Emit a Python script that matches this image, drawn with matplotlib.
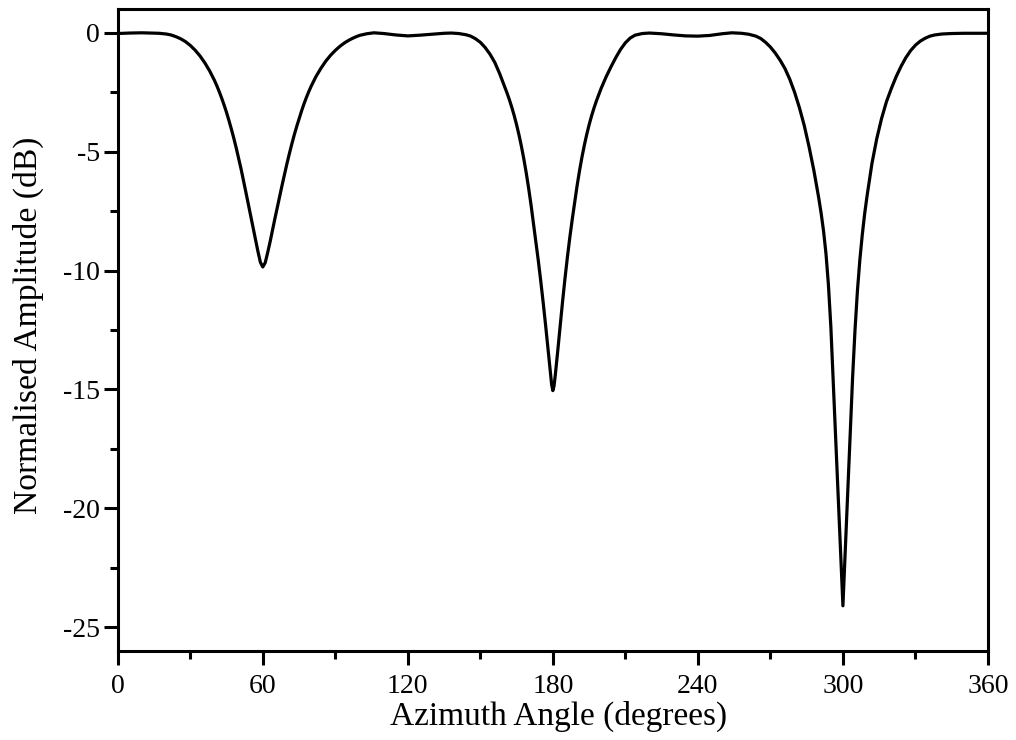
import matplotlib
matplotlib.use("Agg")
import matplotlib.pyplot as plt
from matplotlib.ticker import MultipleLocator

# Azimuth angle (degrees) and normalised amplitude (dB),
# split into six 60-degree sections.
az_a = [0, 5, 10, 14, 17, 20, 22, 24, 26, 28, 30, 32, 34, 36, 38, 40, 41, 42,
        43, 44, 45, 46, 47, 48, 49, 50, 51, 52, 53, 54, 55, 56, 57, 58, 59]
db_a = [-0.03, -0.01, 0.0, -0.01, -0.02, -0.05, -0.09, -0.16, -0.25, -0.37,
        -0.53, -0.73, -0.97, -1.26, -1.6, -2.0, -2.23, -2.48, -2.75, -3.04,
        -3.35, -3.69, -4.05, -4.43, -4.84, -5.27, -5.72, -6.2, -6.7, -7.2,
        -7.7, -8.2, -8.7, -9.2, -9.65]

az_b = [60, 61, 62, 63, 64, 65, 66, 67, 68, 69, 70, 71, 72, 73, 74, 75, 76, 77,
        78, 79, 80, 82, 84, 86, 88, 90, 92, 94, 96, 98, 100, 103, 106, 110, 115]
db_b = [-9.85, -9.67, -9.25, -8.8, -8.3, -7.82, -7.34, -6.86, -6.4, -5.94,
        -5.5, -5.08, -4.68, -4.3, -3.95, -3.62, -3.3, -3.0, -2.73, -2.48,
        -2.25, -1.84, -1.5, -1.2, -0.95, -0.74, -0.56, -0.41, -0.29, -0.19,
        -0.11, -0.04, 0.0, -0.03, -0.09]

az_c = [120, 125, 130, 135, 138, 141, 144, 146, 148, 150, 152, 154, 156, 158,
        160, 161, 162, 163, 164, 165, 166, 167, 168, 169, 170, 171, 172, 173,
        174, 175, 176, 177, 178, 179, 179.5]
db_c = [-0.13, -0.1, -0.06, -0.02, -0.01, -0.03, -0.08, -0.14, -0.25, -0.4,
        -0.62, -0.9, -1.25, -1.72, -2.25, -2.52, -2.81, -3.13, -3.48, -3.87,
        -4.3, -4.78, -5.31, -5.9, -6.55, -7.26, -8.03, -8.8, -9.6, -10.45,
        -11.35, -12.3, -13.3, -14.3, -14.8]

az_d = [180, 180.5, 181, 182, 183, 184, 185, 186, 187, 188, 189, 190, 191, 192,
        193, 194, 195, 196, 197, 198, 200, 202, 204, 206, 208, 210, 212, 214,
        217, 220, 225, 230, 235]
db_d = [-15.05, -14.85, -14.4, -13.4, -12.35, -11.32, -10.35, -9.45, -8.62,
        -7.86, -7.16, -6.45, -5.82, -5.25, -4.74, -4.28, -3.87, -3.5, -3.17,
        -2.87, -2.33, -1.86, -1.44, -1.05, -0.7, -0.42, -0.22, -0.1, -0.03,
        -0.01, -0.04, -0.09, -0.13]

az_e = [240, 245, 250, 254, 258, 261, 264, 266, 268, 270, 272, 274, 276, 278,
        280, 282, 284, 286, 288, 290, 291, 292, 293, 294, 295, 296, 297, 298,
        299, 299.5]
db_e = [-0.14, -0.11, -0.04, 0.0, -0.02, -0.06, -0.14, -0.24, -0.4, -0.6,
        -0.85, -1.15, -1.5, -1.95, -2.5, -3.15, -3.9, -4.8, -5.8, -6.95, -7.6,
        -8.35, -9.3, -10.6, -12.35, -14.7, -17.1, -19.5, -21.8, -22.9]

az_f = [300, 300.5, 301, 302, 303, 304, 305, 306, 307, 308, 309, 310, 312, 314,
        316, 318, 320, 322, 324, 326, 328, 330, 332, 334, 336, 338, 341, 345,
        350, 360]
db_f = [-24.1, -22.9, -21.6, -19.2, -16.8, -14.5, -12.5, -10.85, -9.55, -8.5,
        -7.6, -6.85, -5.5, -4.45, -3.6, -2.9, -2.35, -1.85, -1.42, -1.05,
        -0.75, -0.52, -0.35, -0.23, -0.14, -0.09, -0.05, -0.03, -0.02, -0.02]

azimuth = az_a + az_b + az_c + az_d + az_e + az_f
amplitude = db_a + db_b + db_c + db_d + db_e + db_f

x_ticks = [0, 60, 120, 180, 240, 300, 360]
y_ticks = [0, -5, -10, -15, -20, -25]

plt.rcParams['font.family'] = ['Liberation Serif', 'DejaVu Serif']

fig = plt.figure(figsize=(10.16, 7.40), dpi=100)
ax = fig.add_axes([0.1159, 0.1203, 0.8565, 0.8675])

ax.plot(azimuth, amplitude, color='black', linewidth=2.3,
        solid_joinstyle='round', solid_capstyle='round')

ax.set_xlim(0, 360)
ax.set_ylim(-26, 1)
ax.set_xticks(x_ticks)
ax.set_yticks(y_ticks)
ax.set_yticklabels([str(v) for v in y_ticks])
ax.xaxis.set_minor_locator(MultipleLocator(30))
ax.yaxis.set_minor_locator(MultipleLocator(2.5))

for s in ax.spines.values():
    s.set_linewidth(2.2)

ax.tick_params(axis='both', which='major', direction='out', length=10, width=2.2,
               labelsize=20, pad=3)
ax.tick_params(axis='both', which='minor', direction='out', length=6, width=2.2)
ax.tick_params(axis='x', which='major', pad=6.5)
ax.tick_params(top=False, right=False, which='both')

ax.set_xlabel('Azimuth Angle (degrees)', fontsize=24)
ax.xaxis.set_label_coords(0.5065, -0.1153)
ax.xaxis.label.set_va('baseline')

ax.set_ylabel('Normalised Amplitude (dB)', fontsize=24.2)
ax.yaxis.set_label_coords(-0.0847, 0.5078)

fig.savefig('out.png', dpi=100)
